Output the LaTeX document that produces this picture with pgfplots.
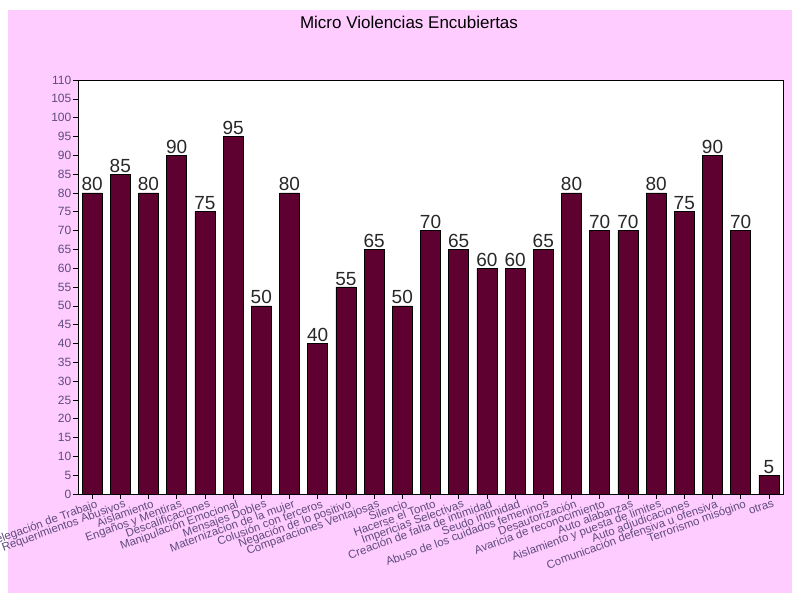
\documentclass[border=0pt]{standalone}
\usepackage{fontspec}
\setmainfont{Liberation Sans}
\usepackage{pgfplots}
\pgfplotsset{compat=1.18}
\definecolor{bgpink}{RGB}{255,204,255}
\definecolor{barcol}{RGB}{94,0,48}
\definecolor{lblcol}{RGB}{95,75,125}
\definecolor{valcol}{RGB}{40,40,40}
\begin{document}
\begin{tikzpicture}[x=1pt,y=1pt]
\path[use as bounding box] (0,0) rectangle (792,593);
\fill[white] (0,0) rectangle (792,593);
\fill[bgpink] (8,0) rectangle (792,583);
\node[font=\fontsize{17}{19}\selectfont, text=black] at (409,571) {Micro Violencias Encubiertas};
\begin{axis}[
  at={(78pt,99pt)}, anchor=south west,
  scale only axis, width=705pt, height=414pt,
  xmin=-0.5, xmax=24.5, ymin=0, ymax=110,
  axis background/.style={fill=white},
  axis line style={black, line width=0.8pt},
  ytick={0,5,...,110},
  xtick={0,...,24},
  xticklabels={Delegación de Trabajo,Requerimientos Abusivos,Aislamiento,Engaños y Mentiras,Descalificaciones,Manipulación Emocional,Mensajes Dobles,Maternizacion de la mujer,Colusión con terceros,Negación de lo positivo,Comparaciones Ventajosas,Silencio,Hacerse el Tonto,Impericias Selectivas,Creación de falta de intimidad,Seudo intimidad,Abuso de los cuidados femeninos,Desautorización,Avaricia de reconocimiento,Auto alabanzas,Aislamiento y puesta de limites,Auto adjudicaciones,Comunicación defensiva u ofensiva,Terrorismo misógino,otras},
  tick align=outside, tick pos=left,
  major tick length=5pt,
  tick style={black, line width=0.6pt},
  /pgf/number format/assume math mode=true,
  yticklabel style={font=\fontsize{12}{13}\selectfont, text=lblcol, inner sep=1.5pt},
  xticklabel style={font=\fontsize{11.5}{12}\selectfont, text=lblcol, rotate=20, anchor=north east, inner sep=1pt, xshift=4pt},
  nodes near coords,
  every node near coord/.append style={font=\fontsize{19}{21}\selectfont, text=valcol, inner sep=1.5pt},
  point meta=y,
]
\addplot[ybar, bar width=20pt, fill=barcol, draw=black, line width=0.5pt] coordinates {
(0,80) (1,85) (2,80) (3,90) (4,75) (5,95) (6,50) (7,80) (8,40) (9,55)
(10,65) (11,50) (12,70) (13,65) (14,60) (15,60) (16,65) (17,80) (18,70) (19,70)
(20,80) (21,75) (22,90) (23,70) (24,5)};
\end{axis}
\end{tikzpicture}
\end{document}
